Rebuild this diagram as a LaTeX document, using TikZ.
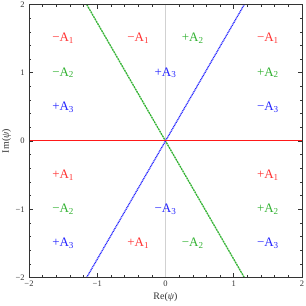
\documentclass[tikz,border=0pt]{standalone}
\usepackage{fontspec}
\setmainfont{Liberation Serif}
\definecolor{cred}{rgb}{1,0.2,0.2}
\definecolor{cline}{rgb}{1,0.1,0.1}
\definecolor{cgreen}{rgb}{0.2,0.7,0.2}
\definecolor{cblue}{rgb}{0.15,0.15,1}
\definecolor{cframe}{rgb}{0.2,0.2,0.2}
\definecolor{cgray}{rgb}{0.82,0.82,0.82}
\begin{document}
\begin{tikzpicture}[x=68.25bp,y=68.25bp,
  lab/.style={font=\fontsize{13}{13}\selectfont, inner sep=0pt},
  tlab/.style={font=\fontsize{8.5}{8.5}\selectfont, inner sep=0pt, text=cframe},
  framestyle/.style={draw=cframe, line width=0.7bp},
  tickstyle/.style={draw=cframe, line width=0.5bp}]
\useasboundingbox (-2.425,-2.418) rectangle (2.059,2.066);
% ticks
\foreach \v in {-2,-1.8,...,2.01} {
  \draw[tickstyle] (\v,-2) -- ++(0,0.03);
  \draw[tickstyle] (\v,2) -- ++(0,-0.03);
  \draw[tickstyle] (-2,\v) -- ++(0.03,0);
  \draw[tickstyle] (2,\v) -- ++(-0.03,0);
}
\foreach \v in {-2,-1,0,1,2} {
  \draw[tickstyle] (\v,-2) -- ++(0,0.06);
  \draw[tickstyle] (\v,2) -- ++(0,-0.06);
  \draw[tickstyle] (-2,\v) -- ++(0.06,0);
  \draw[tickstyle] (2,\v) -- ++(-0.06,0);
}
% axes inside
\draw[draw=cgray, line width=1bp] (0,-2) -- (0,2);
\draw[draw=cgreen, line width=1.3bp, dash pattern=on 2bp off 0.7bp] (-1.1547,2) -- (1.1547,-2);
\draw[draw=cblue, line width=1.3bp, dash pattern=on 1bp off 0.7bp] (-1.1547,-2) -- (1.1547,2);
\fill[cline] (-2,-0.0075) rectangle (2,0.0075);
\draw[framestyle] (-2,-2) rectangle (2,2);
% tick labels
\foreach \v/\t in {-2/−2,-1/−1,0/0,1/1,2/2} {
  \node[tlab, anchor=north] (bx\v) at (\v,-2.05) {\t};
  \node[tlab, anchor=east] (ly\v) at (-2.06,\v) {\t};
}
\node[font=\fontsize{10}{10}\selectfont, inner sep=0pt, text=cframe] (xlab) at (0,-2.29) {Re(\textit{ψ})};
\node[font=\fontsize{10}{10}\selectfont, inner sep=0pt, text=cframe, rotate=90] (ylab) at (-2.33,0) {Im(\textit{ψ})};
% region labels
\node[lab, text=cred] (a1) at (-1.5,1.5) {−A\textsubscript{1}};
\node[lab, text=cred] (a2) at (-0.4,1.5) {−A\textsubscript{1}};
\node[lab, text=cgreen] (a3) at (0.4,1.5) {+A\textsubscript{2}};
\node[lab, text=cred] (a4) at (1.5,1.5) {−A\textsubscript{1}};
\node[lab, text=cgreen] (b1) at (-1.5,1) {−A\textsubscript{2}};
\node[lab, text=cblue] (b2) at (0,1) {+A\textsubscript{3}};
\node[lab, text=cgreen] (b3) at (1.5,1) {+A\textsubscript{2}};
\node[lab, text=cblue] (c1) at (-1.5,0.5) {+A\textsubscript{3}};
\node[lab, text=cblue] (c2) at (1.5,0.5) {−A\textsubscript{3}};
\node[lab, text=cred] (d1) at (-1.5,-0.5) {+A\textsubscript{1}};
\node[lab, text=cred] (d2) at (1.5,-0.5) {+A\textsubscript{1}};
\node[lab, text=cgreen] (e1) at (-1.5,-1) {−A\textsubscript{2}};
\node[lab, text=cblue] (e2) at (0,-1) {−A\textsubscript{3}};
\node[lab, text=cgreen] (e3) at (1.5,-1) {+A\textsubscript{2}};
\node[lab, text=cblue] (f1) at (-1.5,-1.5) {+A\textsubscript{3}};
\node[lab, text=cred] (f2) at (-0.4,-1.5) {+A\textsubscript{1}};
\node[lab, text=cgreen] (f3) at (0.4,-1.5) {−A\textsubscript{2}};
\node[lab, text=cblue] (f4) at (1.5,-1.5) {−A\textsubscript{3}};
\end{tikzpicture}
\end{document}
